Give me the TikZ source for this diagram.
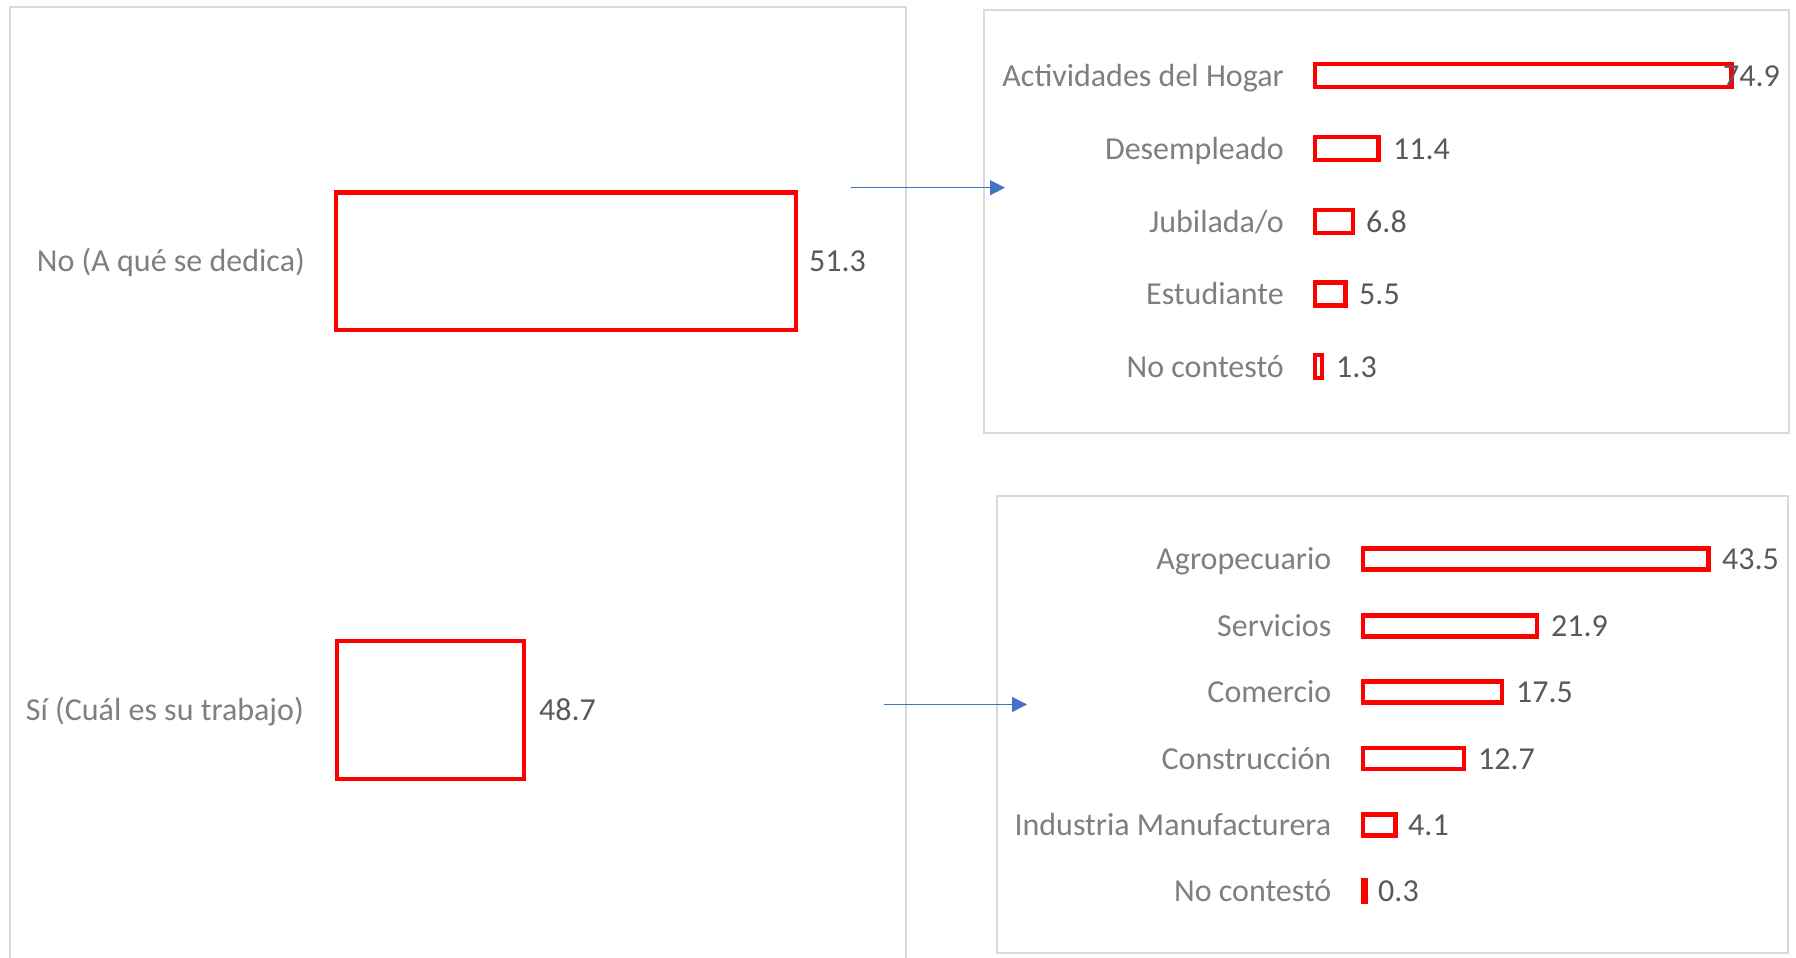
\documentclass[tikz,border=0pt]{standalone}
\usepackage{fontspec}
\setmainfont{Carlito}
\usetikzlibrary{arrows.meta}
\definecolor{labgray}{HTML}{7F7F7F}
\definecolor{valgray}{HTML}{595959}
\definecolor{panelgray}{HTML}{D9D9D9}
\definecolor{arrowblue}{HTML}{4472C4}
\begin{document}
\begin{tikzpicture}[x=1pt,y=-1pt,
  panel/.style={draw=panelgray,line width=2pt},
  barbox/.style={draw=red,line width=4.3pt},
  lab/.style={anchor=base east,inner sep=0pt,text=labgray,font=\fontsize{32}{38}\selectfont},
  val/.style={anchor=base west,inner sep=0pt,text=valgray,font=\fontsize{32}{38}\selectfont},
  link/.style={draw=arrowblue,line width=1.5pt,-{Triangle[length=15pt,width=15pt]}}]
\useasboundingbox (0,0) rectangle (1796,958);
\fill[white] (0,0) rectangle (1796,958);

% panels
\draw[panel] (9.5,958) -- (9.5,7.5) -- (905.5,7.5) -- (905.5,958);
\draw[panel] (984,10) rectangle (1789,432.5);
\draw[panel] (996.5,496) rectangle (1788,953);

% left panel bars
\draw[barbox] (336,192.5) rectangle (796,330);
\draw[barbox] (337,641) rectangle (524,779);
\node[lab] (lno) at (305,271.5) {No (A qué se dedica)};
\node[val] (vno) at (809,271.5) {51.3};
\node[lab] (lsi) at (304,720.5) {Sí (Cuál es su trabajo)};
\node[val] (vsi) at (539,720.5) {48.7};

% top-right chart
\draw[barbox] (1315,64) rectangle (1731.4,87);
\draw[barbox] (1315,137) rectangle (1378.4,160);
\draw[barbox] (1315,210) rectangle (1352.8,233);
\draw[barbox] (1315,282.5) rectangle (1345.6,305.5);
\draw[barbox] (1315,355) rectangle (1322.2,378);
\node[lab] (t1) at (1284,86) {Actividades del Hogar};
\node[lab] (t2) at (1284,159) {Desempleado};
\node[lab] (t3) at (1284,232) {Jubilada/o};
\node[lab] (t4) at (1284,304.5) {Estudiante};
\node[lab] (t5) at (1284,377) {No contestó};
\node[val,anchor=base east] (tv1) at (1780,86) {74.9};
\node[val] (tv2) at (1393,159) {11.4};
\node[val] (tv3) at (1366,232) {6.8};
\node[val] (tv4) at (1359,304.5) {5.5};
\node[val] (tv5) at (1336,377) {1.3};

% bottom-right chart
\draw[barbox] (1363,548.5) rectangle (1708.6,569.5);
\draw[barbox] (1363,615.5) rectangle (1537,636.5);
\draw[barbox] (1363,681.5) rectangle (1502,702.5);
\draw[barbox] (1363,748) rectangle (1463.9,769);
\draw[barbox] (1363,814.5) rectangle (1395.6,835.5);
\draw[barbox] (1363,880.5) rectangle (1365.4,901.5);
\node[lab] (b1) at (1331.5,569.5) {Agropecuario};
\node[lab] (b2) at (1331.5,636.5) {Servicios};
\node[lab] (b3) at (1331.5,702.5) {Comercio};
\node[lab] (b4) at (1331.5,769) {Construcción};
\node[lab] (b5) at (1331.5,835.5) {Industria Manufacturera};
\node[lab] (b6) at (1331.5,901.5) {No contestó};
\node[val] (bv1) at (1722,569.5) {43.5};
\node[val] (bv2) at (1551,636.5) {21.9};
\node[val] (bv3) at (1516,702.5) {17.5};
\node[val] (bv4) at (1478,769) {12.7};
\node[val] (bv5) at (1408,835.5) {4.1};
\node[val] (bv6) at (1378,901.5) {0.3};

% connectors
\coordinate (a1s) at (851,187.7);
\coordinate (a1e) at (1005,187.7);
\coordinate (a2s) at (884,704.5);
\coordinate (a2e) at (1027,704.5);
\draw[link] (a1s) -- (a1e);
\draw[link] (a2s) -- (a2e);
\end{tikzpicture}
\end{document}
